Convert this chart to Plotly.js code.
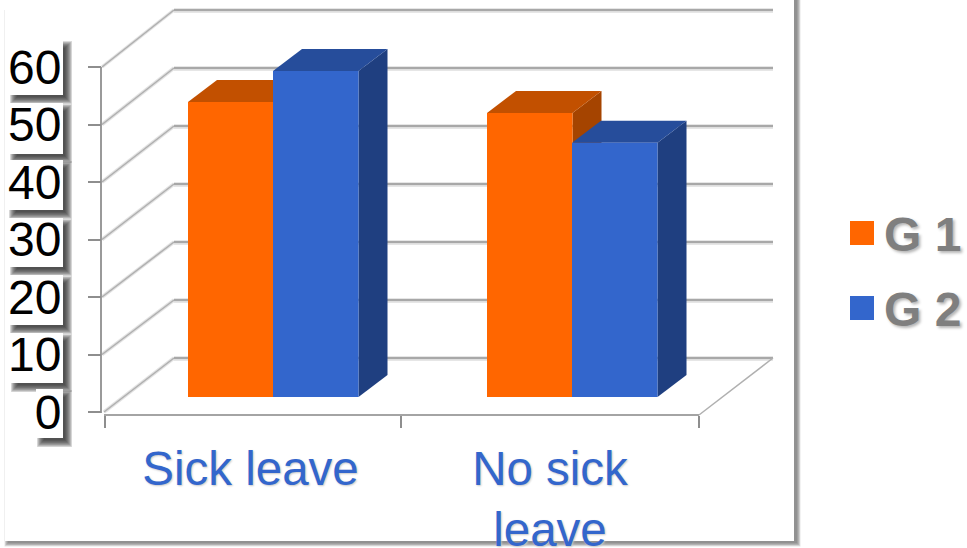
<!DOCTYPE html>
<html>
<head>
<meta charset="utf-8">
<script src="https://cdn.plot.ly/plotly-3.0.1.min.js"></script>
<style>html,body{margin:0;padding:0;background:#fff;overflow:hidden}#chart{width:967px;height:548px}</style>
</head>
<body>
<div id="chart"></div>
<script>
// Survey shares by sick-leave status, shown as a pseudo-3D clustered column chart.
var categories = ['Sick leave', 'No sick<br>leave'];
var seriesNames = ['G 1', 'G 2'];
var g1Values = [51.3, 49.4];
var g2Values = [56.7, 44.2];
var valueTicks = [0, 10, 20, 30, 40, 50, 60];

var frontColors = ['#ff6600', '#3366cc'];
var topColors = ['#c25000', '#264d9b'];
var sideColors = ['#a54400', '#1f3f80'];

var W = 967, H = 548;
// Axis scales: one category spans 297 px, one value unit spans 5.75 px.
var xPerCat = 297, xOrigin = 253.5, yPerUnit = 5.75, yOrigin = 412;
var xRange = [-xOrigin / xPerCat, (W - xOrigin) / xPerCat];
var yRange = [(yOrigin - H) / yPerUnit, yOrigin / yPerUnit];
function cx(px) { return (px - xOrigin) / xPerCat; }
function vy(py) { return (yOrigin - py) / yPerUnit; }

// Column plane sits slightly behind the front floor edge.
var barBase = vy(397);
var groupX = [0, 1 + 2 / xPerCat];
var barLeft = [cx(188), cx(273)];
var barWidth = 85.5 / xPerCat;
var depthX = 29 / xPerCat, depthV = 22 / yPerUnit;

function poly(pts, color) {
  var d = pts.map(function (p, i) { return (i ? 'L' : 'M') + p[0] + ',' + p[1]; }).join(' ') + ' Z';
  return { type: 'path', xref: 'x', yref: 'y', path: d, fillcolor: color, line: { width: 0 }, layer: 'below' };
}
function seg(x0, y0, x1, y1, color, width) {
  return { type: 'line', xref: 'x', yref: 'y', x0: x0, y0: y0, x1: x1, y1: y1, layer: 'below', line: { color: color, width: width } };
}
// Feathered rectangle in page pixels, used for soft drop shadows.
function soft(x0, y0, x1, y1, steps, spread, opacity, color) {
  var out = [];
  for (var i = steps; i >= 0; i--) {
    var g = spread * i / steps;
    out.push({
      type: 'rect', xref: 'paper', yref: 'paper', layer: 'below',
      x0: (x0 - g) / W, x1: (x1 + g) / W, y0: 1 - (y1 + g) / H, y1: 1 - (y0 - g) / H,
      fillcolor: color, opacity: opacity, line: { width: 0 }
    });
  }
  return out;
}
function pageRect(x0, y0, x1, y1, color) {
  return {
    type: 'rect', xref: 'paper', yref: 'paper', layer: 'below',
    x0: x0 / W, x1: x1 / W, y0: 1 - y1 / H, y1: 1 - y0 / H, fillcolor: color, line: { width: 0 }
  };
}

var shapes = [];

// Panel with a soft shadow along its right and bottom edges.
shapes = shapes.concat(soft(8, -10, 797, 543, 5, 3.5, 0.16, '#555555'));
shapes.push(pageRect(4, -10, 794, 541, '#ffffff'));
shapes.push({ type: 'line', xref: 'paper', yref: 'paper', layer: 'below', x0: 4.5 / W, x1: 4.5 / W, y0: 1 - 541 / H, y1: 1 - 10 / H, line: { color: '#f0f0f0', width: 1 } });

// White plates behind the value labels, each with its own shadow.
var plateEdges = [[9, 40, 95], [9, 103, 154], [8, 160, 210], [9, 218, 267], [9, 275, 325], [10, 333, 383], [36, 389, 438]];
plateEdges.forEach(function (p) {
  shapes = shapes.concat(soft(p[0] + 8, p[1] + 8, 65, p[2] + 2, 8, 7, 0.17, '#2a2a2a'));
});
plateEdges.forEach(function (p) {
  shapes.push(pageRect(p[0], p[1], 63, p[2], '#ffffff'));
});

// Back wall gridlines and the diagonals that join them to the value axis.
var wallX0 = cx(174), wallX1 = cx(773);
function wallV(v) { return vy(358) + v * (348 / 345); }
valueTicks.forEach(function (v) {
  var fx = v === 0 ? cx(104) : cx(102);
  shapes.push(seg(fx, v, wallX0, wallV(v), '#e2e2e2', 3.5));
  shapes.push(seg(wallX0, wallV(v) - 0.1, wallX1, wallV(v) - 0.1, '#dedede', 4.5));
  shapes.push(seg(fx, v, wallX0, wallV(v), '#b0b0b0', 1.5));
  shapes.push(seg(wallX0, wallV(v), wallX1, wallV(v), '#a8a8a8', 2));
});

// Floor edges and axis lines.
var floorV = vy(415);
shapes.push(seg(cx(104), floorV, cx(699), floorV, '#a4a4a4', 2));
shapes.push(seg(cx(699), floorV, wallX1, wallV(0), '#b0b0b0', 1.5));
shapes.push(seg(cx(101), vy(67), cx(101), vy(413), '#9a9a9a', 2));

// Extruded top and side faces of each column, drawn under the front faces.
[g1Values, g2Values].forEach(function (vals, s) {
  vals.forEach(function (val, c) {
    var l = groupX[c] + barLeft[s], r = l + barWidth, t = barBase + val, b = barBase;
    shapes.push(poly([[r, b], [r + depthX, b + depthV], [r + depthX, t + depthV], [r, t]], sideColors[s]));
    shapes.push(poly([[l, t], [r, t], [r + depthX, t + depthV], [l + depthX, t + depthV]], topColors[s]));
  });
});

// Legend swatches.
var legendCentres = [233, 308];
seriesNames.forEach(function (n, i) {
  shapes.push(pageRect(850, legendCentres[i] - 12, 874, legendCentres[i] + 12, frontColors[i]));
});
var annotations = seriesNames.map(function (n, i) {
  return {
    xref: 'paper', yref: 'paper', x: 882 / W, y: 1 - (legendCentres[i] + 1) / H,
    xanchor: 'left', yanchor: 'middle', text: '<b>' + n + '</b>', showarrow: false,
    font: { family: 'Liberation Sans, Arial, sans-serif', size: 48, color: '#7f7f7f', shadow: '2px 2px 3px #b5b5b5' }
  };
});

var traces = [g1Values, g2Values].map(function (vals, s) {
  return {
    type: 'bar', name: seriesNames[s], x: groupX, y: vals, base: barBase,
    offset: barLeft[s], width: barWidth,
    marker: { color: frontColors[s], line: { width: 0 } },
    cliponaxis: false, hoverinfo: 'none', showlegend: false
  };
});

var layout = {
  width: W, height: H,
  margin: { l: 0, r: 0, t: 0, b: 0, pad: 0 },
  paper_bgcolor: '#ffffff', plot_bgcolor: 'rgba(0,0,0,0)',
  barmode: 'overlay', showlegend: false,
  xaxis: {
    range: xRange, domain: [0, 1], anchor: 'free', position: (H - 415) / H,
    showgrid: false, zeroline: false, showline: false, fixedrange: true,
    tickmode: 'array', tickvals: [cx(250.5), cx(550)], ticktext: categories, ticks: '',
    ticklabelstandoff: 21,
    tickfont: { family: 'Liberation Sans, Arial, sans-serif', size: 47.5, color: '#3366cc', shadow: '1px 1px 2px #c8c8c8' },
    minor: { tickmode: 'array', tickvals: [cx(105), cx(401), cx(699)], ticks: 'outside', ticklen: 12, tickwidth: 2, tickcolor: '#8e8e8e', showgrid: false }
  },
  yaxis: {
    range: yRange, domain: [0, 1], anchor: 'free', position: 101 / W,
    showgrid: false, zeroline: false, showline: false, fixedrange: true,
    tickmode: 'array', tickvals: valueTicks, ticktext: valueTicks.map(String),
    ticks: 'outside', ticklen: 13, tickwidth: 2, tickcolor: '#8e8e8e',
    ticklabelstandoff: 17,
    tickfont: { family: 'Liberation Sans, Arial, sans-serif', size: 48, color: '#000000' }
  },
  shapes: shapes,
  annotations: annotations
};

Plotly.newPlot('chart', traces, layout, { displayModeBar: false, staticPlot: true });
</script>
</body>
</html>
